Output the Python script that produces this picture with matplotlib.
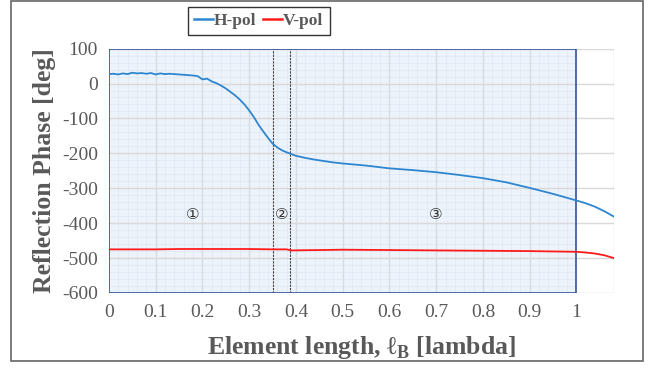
import matplotlib
matplotlib.use("Agg")
import matplotlib.pyplot as plt
from matplotlib.patches import Rectangle
from matplotlib.lines import Line2D
import numpy as np

# ---- data ----
h_x = [0.00, 0.01, 0.02, 0.03, 0.04, 0.05, 0.06, 0.07, 0.08, 0.09, 0.10, 0.11, 0.12,
       0.13, 0.14, 0.15, 0.16, 0.17, 0.18, 0.19, 0.20, 0.21, 0.22, 0.23, 0.24, 0.25,
       0.26, 0.27, 0.28, 0.29, 0.30, 0.31, 0.32, 0.33, 0.34, 0.35, 0.36, 0.37, 0.38,
       0.39, 0.40, 0.42, 0.44, 0.46, 0.48, 0.50, 0.55, 0.60, 0.65, 0.70, 0.75, 0.80,
       0.85, 0.90, 0.95, 1.00, 1.02, 1.04, 1.06, 1.08]
h_y = [27, 28, 26, 29, 27, 31, 29, 30, 28, 30, 26, 29, 27,
       28, 27, 26, 25, 24, 23, 21, 12, 14, 6, 1, -6, -14,
       -24, -34, -46, -60, -77, -96, -118, -137, -155, -172, -183, -191, -197,
       -202, -207, -213, -218, -222, -226, -229, -235, -243, -248, -254, -262, -271,
       -283, -299, -316, -335, -343, -353, -366, -381]

v_x = [0.00, 0.05, 0.10, 0.15, 0.20, 0.25, 0.30, 0.35, 0.38, 0.39, 0.45, 0.50,
       0.60, 0.70, 0.80, 0.90, 1.00, 1.02, 1.04, 1.06, 1.08]
v_y = [-475, -475, -475, -474, -474, -474, -474, -475, -475, -478, -477, -476,
       -477, -478, -479, -480, -482, -484, -487, -492, -500]

x_ticks = [0, 0.1, 0.2, 0.3, 0.4, 0.5, 0.6, 0.7, 0.8, 0.9, 1]
x_tick_labels = ["0", "0.1", "0.2", "0.3", "0.4", "0.5", "0.6", "0.7", "0.8", "0.9", "1"]
y_ticks = [100, 0, -100, -200, -300, -400, -500, -600]
region_lines = [0.35, 0.387, 1.08]
region_labels = ["①", "②", "③"]
region_label_x = [0.18, 0.37, 0.70]
region_label_y = -375

plt.rcParams['font.family'] = ['Liberation Serif', 'DejaVu Serif']
plt.rcParams['mathtext.fontset'] = 'custom'
plt.rcParams['mathtext.rm'] = 'Liberation Serif'
plt.rcParams['mathtext.bf'] = 'Liberation Serif:bold'
plt.rcParams['axes.unicode_minus'] = False

gray = '#595959'
fig = plt.figure(figsize=(6.6, 3.74), dpi=100)
ax = fig.add_axes([0.165, 0.2166, 0.765, 0.6534])
ax.set_xlim(0, 1.08)
ax.set_ylim(-600, 100)

# shaded region 0..1
ax.add_patch(Rectangle((0, -600), 1, 700, facecolor='#EDF3FA', edgecolor='none', zorder=0))
# minor grid inside shaded region
for xv in np.arange(0.02, 1.0, 0.02):
    ax.plot([xv, xv], [-600, 100], color='#DDE7F3', lw=0.5, zorder=0.5)
for yv in np.arange(-580, 100, 20):
    ax.plot([0, 1], [yv, yv], color='#DDE7F3', lw=0.5, zorder=0.5)
# major grid
for xv in x_ticks[1:-1]:
    ax.plot([xv, xv], [-600, 100], color='#D6DCE4', lw=1.0, zorder=0.6)
for yv in y_ticks:
    ax.plot([0, 1.08], [yv, yv], color='#D9D9D9', lw=1.0, zorder=0.6)
ax.add_patch(Rectangle((0, -600), 1, 700, facecolor='none', edgecolor='#2F5597', lw=1.2, zorder=3))

for xv in region_lines:
    ax.axvline(xv, color='#404040', lw=0.8, ls=(0, (2, 1)), zorder=2)

for s in ax.spines.values():
    s.set_visible(False)

ax.plot(h_x, h_y, color='#2E86D1', lw=1.3, zorder=4)
ax.plot(v_x, v_y, color='#FF1A1A', lw=1.3, zorder=4)

for lab, lx in zip(region_labels, region_label_x):
    ax.text(lx, region_label_y, lab, ha='center', va='center', fontsize=11,
            family=['DejaVu Sans', 'Noto Sans CJK JP'], color='#333333', zorder=5)

ax.set_xticks(x_ticks)
ax.set_xticklabels(x_tick_labels)
ax.set_yticks(y_ticks)
ax.tick_params(length=0, labelsize=14, labelcolor=gray, pad=8)

ax.set_ylabel('Reflection Phase [deg]', fontsize=18.5, fontweight='bold', color=gray, labelpad=4)
ax.set_xlabel(r'Element length, ℓ$_{\mathbf{B}}$ [lambda]', fontsize=18.5, fontweight='bold',
              color=gray, labelpad=9)

handles = [Line2D([], [], color='#2E86D1', lw=1.8), Line2D([], [], color='#FF1A1A', lw=1.8)]
leg = fig.legend(handles, ['H-pol', 'V-pol'], loc='center', bbox_to_anchor=(0.392, 0.944),
                 ncol=2, frameon=True, fancybox=False, handlelength=1.1, handletextpad=0.05,
                 columnspacing=0.4, borderpad=0.35, prop={'weight': 'bold', 'size': 12.5})
leg.get_frame().set_edgecolor('black')
leg.get_frame().set_linewidth(1.0)
for t in leg.get_texts():
    t.set_color(gray)

fig.patches.append(Rectangle((11/660, 13/374), 632/660, 360/374, transform=fig.transFigure,
                             facecolor='none', edgecolor='#666666', lw=1.2))

fig.savefig('out.png', dpi=100)
